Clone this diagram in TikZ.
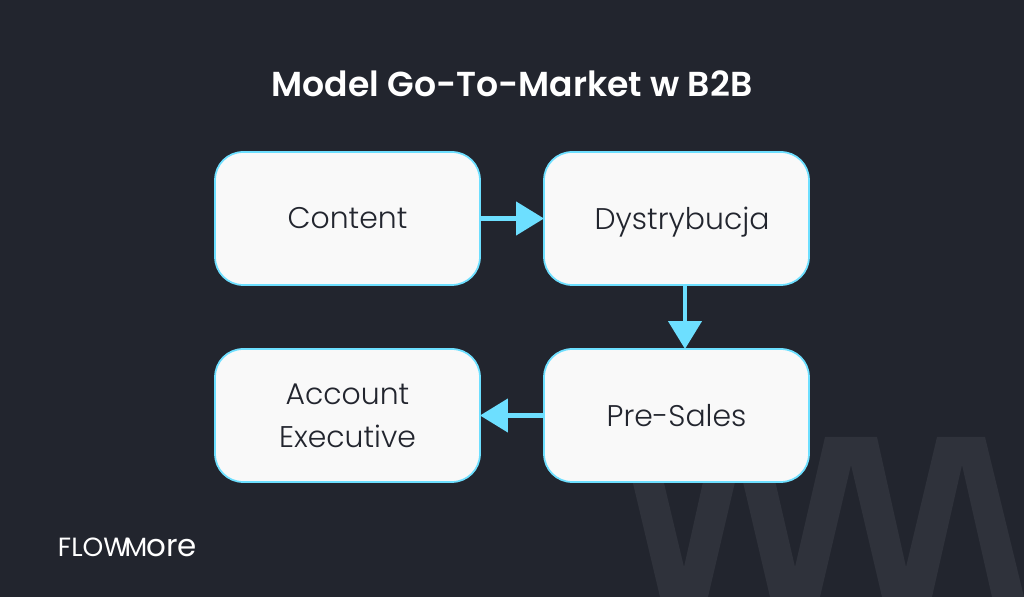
\documentclass[tikz,border=0pt]{standalone}
\usepackage{fontspec}
\setmainfont{Poppins Light}[BoldFont={Poppins SemiBold}]
\newfontfamily\logofont{Poppins}
\usetikzlibrary{arrows.meta}
\definecolor{bgdark}{HTML}{22252E}
\definecolor{markgray}{HTML}{2F323B}
\definecolor{flowblue}{HTML}{6DDFFF}
\definecolor{boxfill}{HTML}{F9F9F9}
\tikzset{
	stagebox/.style={draw=flowblue, line width=0.035cm, fill=boxfill, rounded corners=0.56cm, minimum width=5.3cm, minimum height=2.66cm, align=center, text=bgdark, font=\fontsize{17}{24.5}\selectfont, inner sep=0pt, outer sep=0pt},
	flowarrow/.style={draw=flowblue, line width=0.09cm, -{Triangle[length=0.56cm, width=0.66cm, fill=flowblue]}}
}
\begin{document}
\begin{tikzpicture}[x=0.02cm, y=-0.02cm]
		%%%%% BACKGROUND %%%%%
		\fill[bgdark] (0, 0) rectangle (1024, 597);
		\useasboundingbox (0, 0) rectangle (1024, 597);
		\fill[markgray] (622, 437) -- (653, 437) -- (684, 567) -- (713, 437) -- (765, 437) -- (795, 567) -- (825, 437) -- (877, 437) -- (906, 567) -- (937, 437) -- (985, 437) -- (1024, 597) -- (992, 597) -- (962, 465) -- (932, 597) -- (882, 597) -- (851, 465) -- (820, 597) -- (770, 597) -- (739, 465) -- (708, 597) -- (660, 597) -- cycle;
		
		\node[text=white, font=\fontsize{19.7}{24}\selectfont\bfseries] (title) at (512, 84) {Model Go-To-Market w B2B};
		
		\node[stagebox] (content) at (347.5, 218.5) {Content};
		\node[stagebox] (dystrybucja) at (676.5, 218.5) {\hspace*{6.3pt}\raisebox{0pt}[\height][0pt]{Dystrybucja}};
		\node[stagebox] (presales) at (676.5, 415.5) {Pre-Sales};
		\node[stagebox] (account) at (347.5, 415.5) {Account\\Executive};
		
		\draw[flowarrow] (content) -- (dystrybucja);
		\draw[flowarrow] ([xshift=0.17cm]dystrybucja.south) -- ([xshift=0.17cm]presales.north);
		\draw[flowarrow] (presales) -- (account);
		
		\node[text=white, font=\logofont\fontsize{15}{16}\selectfont, inner sep=0pt] (logo) at (127.5, 547) {FLOW\kern-2.5pt M\kern-0.5pt{\fontsize{17.6}{16}\selectfont ore}};
	\end{tikzpicture}
\end{document}
